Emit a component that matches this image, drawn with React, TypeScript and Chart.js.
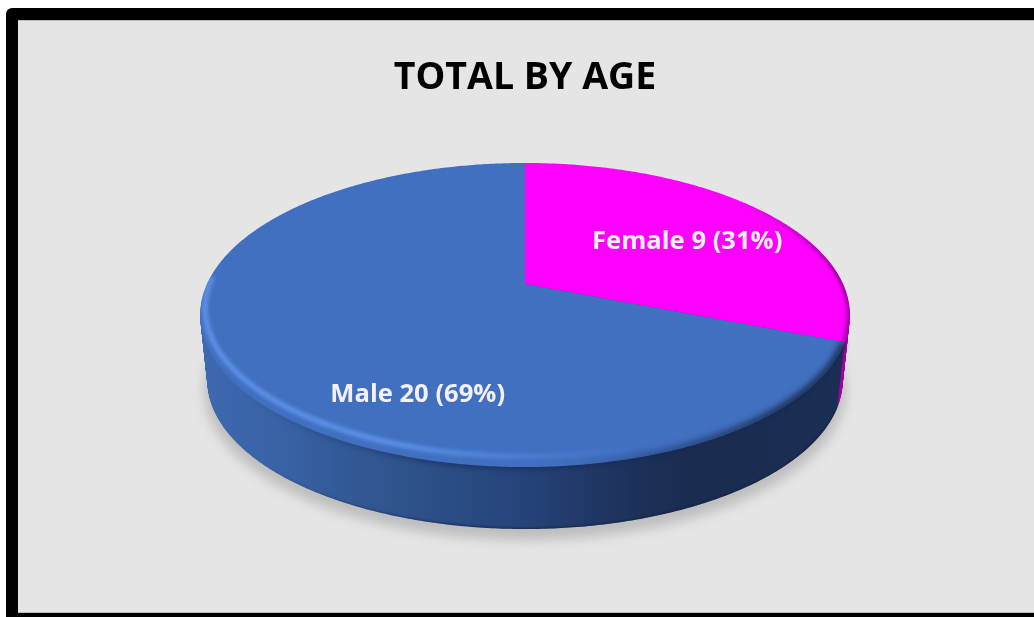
import React, { useEffect, useRef } from "react";
import { Chart, registerables } from "chart.js";

Chart.register(...registerables);

const categories = ["Female", "Male"];
const counts = [9, 20];
const sliceColors = ["#FF00FF", "#4170C1"];
const titleText = "TOTAL BY AGE";

// Perspective of the tilted disc (unit disc -> canvas)
const CX = 525;
const CY = 284;
const BX = 318;
const BY = 145.7;
const K = -0.204;
const DEPTH = 66;
const BOTTOM_SHRINK = 0.022;
// Label anchors on the unit disc
const labelAnchors = [
  [0.542, -0.307],
  [-0.292, 0.66],
];
const labelFont = "bold 25.6px 'Open Sans'";

function pt(a: number, r = 1, t = 0, grow = 0) {
  const u = r * Math.cos(a);
  const v = r * Math.sin(a);
  const d = 1 + K * v;
  const s = 1 - BOTTOM_SHRINK * t + grow;
  return [CX + (s * BX * u) / d, CY + (s * BY * v) / d + DEPTH * t];
}

function sector(ctx: CanvasRenderingContext2D, a0: number, a1: number, t = 0, grow = 0) {
  ctx.beginPath();
  const c = pt(0, 0, t, grow);
  ctx.moveTo(c[0], c[1]);
  const n = Math.ceil((a1 - a0) / 0.01);
  for (let i = 0; i <= n; i++) {
    const p = pt(a0 + ((a1 - a0) * i) / n, 1, t, grow);
    ctx.lineTo(p[0], p[1]);
  }
  ctx.closePath();
}

function arcPath(
  ctx: CanvasRenderingContext2D,
  a0: number,
  a1: number,
  rf: (a: number) => number,
  t = 0
) {
  ctx.beginPath();
  const n = Math.ceil(Math.abs(a1 - a0) / 0.01);
  for (let i = 0; i <= n; i++) {
    const a = a0 + ((a1 - a0) * i) / n;
    const p = pt(a, rf(a), t);
    if (i === 0) ctx.moveTo(p[0], p[1]);
    else ctx.lineTo(p[0], p[1]);
  }
}

const framePlugin = {
  id: "frame",
  beforeDraw(chart: any) {
    const ctx = chart.ctx;
    ctx.save();
    ctx.fillStyle = "#000";
    ctx.beginPath();
    ctx.roundRect(6, 8, 1060, 640, 6);
    ctx.fill();
    ctx.fillStyle = "#E5E5E5";
    ctx.fillRect(18, 20, 1016, 592);
    ctx.fillStyle = "#BDBDBD";
    ctx.fillRect(18, 20, 1016, 1);
    ctx.fillRect(18, 612, 1016, 1);
    ctx.restore();
  },
};

const discPlugin = {
  id: "disc",
  beforeDatasetsDraw(chart: any) {
    const ctx: CanvasRenderingContext2D = chart.ctx;
    const arcs = chart.getDatasetMeta(0).data;
    const FEMALE = arcs[0];
    const MALE = arcs[1];
    ctx.save();

    // soft shadow on the ground
    ctx.save();
    (ctx as any).filter = "blur(6px)";
    ctx.fillStyle = "#BDBDBD";
    sector(ctx, 0, Math.PI * 2, 1.14, 0.012);
    ctx.fill();
    (ctx as any).filter = "none";
    ctx.restore();

    // side wall
    const wall = ctx.createLinearGradient(200, 0, 850, 0);
    wall.addColorStop(0, "#3E69B0");
    wall.addColorStop(0.1, "#3A64A8");
    wall.addColorStop(0.28, "#30558F");
    wall.addColorStop(0.5, "#254379");
    wall.addColorStop(0.68, "#1C3058");
    wall.addColorStop(0.76, "#1A2C4F");
    wall.addColorStop(1, "#1B2F55");
    for (let i = DEPTH; i >= 1; i--) {
      const t = i / DEPTH;
      ctx.fillStyle = "#A300A3";
      sector(ctx, FEMALE.startAngle, FEMALE.endAngle, t);
      ctx.fill();
      ctx.fillStyle = wall;
      sector(ctx, MALE.startAngle, MALE.endAngle, t);
      ctx.fill();
    }

    // dark line at the foot of the wall
    ctx.save();
    const foot = ctx.createLinearGradient(240, 0, 460, 0);
    foot.addColorStop(0, "rgba(15,30,65,0)");
    foot.addColorStop(1, "rgba(15,30,65,0.75)");
    ctx.strokeStyle = foot;
    ctx.lineWidth = 2;
    sector(ctx, 0, Math.PI * 2, 1);
    ctx.clip();
    (ctx as any).filter = "blur(1px)";
    arcPath(ctx, MALE.startAngle, Math.PI, () => 1, 1);
    ctx.stroke();
    (ctx as any).filter = "none";
    ctx.restore();

    // dark band directly under the top face
    ctx.save();
    const under = ctx.createLinearGradient(240, 0, 460, 0);
    under.addColorStop(0, "rgba(20,40,85,0)");
    under.addColorStop(1, "rgba(20,40,85,0.55)");
    ctx.strokeStyle = under;
    ctx.lineWidth = 6;
    (ctx as any).filter = "blur(2px)";
    arcPath(ctx, MALE.startAngle, Math.PI, () => 1);
    ctx.stroke();
    (ctx as any).filter = "none";
    ctx.restore();

    // top face
    arcs.forEach((el: any) => {
      ctx.fillStyle = el.options.backgroundColor;
      sector(ctx, el.startAngle, el.endAngle);
      ctx.fill();
    });

    // magenta rim
    ctx.save();
    sector(ctx, FEMALE.startAngle, FEMALE.endAngle);
    ctx.clip();
    const pr = ctx.createLinearGradient(740, 0, 840, 0);
    pr.addColorStop(0, "rgba(140,0,140,0)");
    pr.addColorStop(1, "rgba(140,0,140,1)");
    ctx.strokeStyle = pr;
    ctx.lineWidth = 5;
    (ctx as any).filter = "blur(2px)";
    arcPath(ctx, FEMALE.startAngle, FEMALE.endAngle, () => 1);
    ctx.stroke();
    (ctx as any).filter = "none";
    ctx.restore();

    // blue bevel: highlight on the left, dark on the right
    ctx.save();
    sector(ctx, MALE.startAngle, MALE.endAngle);
    ctx.clip();
    const dark = ctx.createLinearGradient(560, 0, 780, 0);
    dark.addColorStop(0, "rgba(27,47,85,0)");
    dark.addColorStop(1, "rgba(27,47,85,1)");
    ctx.strokeStyle = dark;
    ctx.lineWidth = 8;
    (ctx as any).filter = "blur(3px)";
    arcPath(ctx, MALE.startAngle, Math.PI / 2, () => 1);
    ctx.stroke();
    const hi = ctx.createLinearGradient(380, 0, 640, 0);
    hi.addColorStop(0, "rgba(104,156,245,1)");
    hi.addColorStop(1, "rgba(104,156,245,0)");
    ctx.strokeStyle = hi;
    ctx.lineWidth = 4;
    (ctx as any).filter = "blur(2px)";
    arcPath(ctx, Math.PI + 0.05, 0.9, (a) => 0.993 - 0.04 * Math.max(0, Math.sin(a)));
    ctx.stroke();
    (ctx as any).filter = "none";
    ctx.restore();

    // labels
    const total = counts.reduce((s, v) => s + v, 0);
    ctx.font = labelFont;
    ctx.fillStyle = "#F4F0F6";
    ctx.textAlign = "center";
    ctx.textBaseline = "middle";
    categories.forEach((name, i) => {
      const [u, v] = labelAnchors[i];
      const d = 1 + K * v;
      const x = CX + (BX * u) / d;
      const y = CY + (BY * v) / d;
      ctx.fillText(`${name} ${counts[i]} (${Math.round((counts[i] / total) * 100)}%)`, x, y);
    });

    ctx.restore();
    return false;
  },
};

export default function App() {
  const ref = useRef<HTMLCanvasElement>(null);
  useEffect(() => {
    document.body.style.margin = "0";
    document.body.style.background = "#fff";
    const chart = new Chart(ref.current!, {
      type: "pie",
      data: {
        labels: categories,
        datasets: [{ data: counts, backgroundColor: sliceColors, borderWidth: 0 }],
      },
      options: {
        responsive: false,
        animation: false,
        layout: { padding: { left: 16 } },
        plugins: {
          legend: { display: false },
          tooltip: { enabled: false },
          title: {
            display: true,
            text: titleText,
            color: "#000",
            font: { family: "'Open Sans'", size: 37.5, weight: "bold" },
            padding: { top: 56, bottom: 10 },
          },
        },
      },
      plugins: [framePlugin, discPlugin],
    } as any);
    return () => chart.destroy();
  }, []);
  return <canvas ref={ref} width={1034} height={617} style={{ display: "block" }} />;
}
